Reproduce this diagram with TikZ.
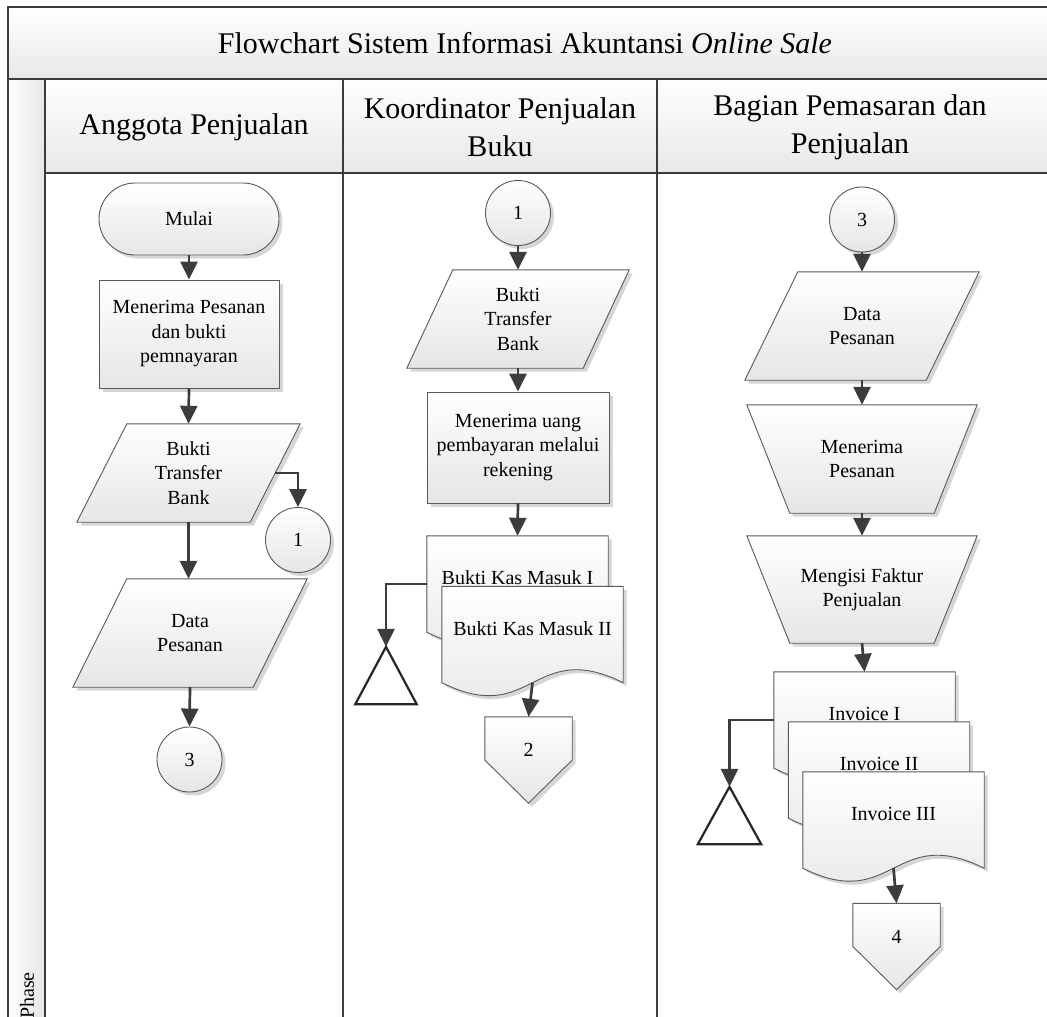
\documentclass[tikz,border=0pt]{standalone}
\usepackage{fontspec}
\setmainfont{Liberation Serif}
\usetikzlibrary{arrows.meta,calc,shadows}
\pgfdeclarelayer{bg}
\pgfdeclarelayer{mid}
\pgfsetlayers{bg,mid,main}
\definecolor{edge}{HTML}{5A5A5A}
\definecolor{wire}{HTML}{3C3C3C}
\definecolor{frame}{HTML}{3C3C3C}

\begin{document}
\begin{tikzpicture}[x=1pt,y=-1pt,
  txt/.style={font=\fontsize{20}{24.5}\selectfont, align=center, inner sep=0pt},
  head/.style={font=\fontsize{30}{38}\selectfont, align=center, inner sep=0pt},
  body/.style={draw=edge, line width=0.9pt, top color=white, bottom color=black!10,
    drop shadow={shadow xshift=3.5pt, shadow yshift=-3.5pt, opacity=0.16, fill=black}},
  term/.style={txt, body, rectangle, rounded corners=36pt, minimum width=180pt, minimum height=72pt},
  procbox/.style={txt, body, rectangle, minimum width=180pt, minimum height=108pt},
  conn/.style={txt, body, circle, minimum size=65pt},
  doc/.style={txt, minimum width=181pt, minimum height=96pt, text height=14pt, text depth=13pt},
  offp/.style={txt, minimum width=87pt, minimum height=86pt, text height=14pt, text depth=21pt},
  tri/.style={inner sep=0pt, minimum width=61pt, minimum height=57pt},
  archive/.style={draw=black!85, line width=2.2pt, fill=white, line join=miter},
  lane/.style={draw=frame, line width=1.8pt},
  flow/.style={draw=wire, line width=2.7pt, -{Triangle[length=18pt,width=17pt]}}
]
\useasboundingbox (0,0) rectangle (1047,1017);
\clip (0,0) rectangle (1047,1017);

% ---------- swimlane frame ----------
\begin{pgfonlayer}{bg}
  \fill[white] (0,0) rectangle (1047,1017);
  \path[top color=white, bottom color=black!9] (8,7) rectangle (1060,79);
  \path[left color=white, right color=black!10] (8,79) rectangle (45,1040);
  \path[top color=white, bottom color=black!9] (45,79) rectangle (1060,173);
  \draw[lane] (8,1040) -- (8,7) -- (1060,7);
  \draw[lane] (8,79) -- (1060,79);
  \draw[lane] (45,173) -- (1060,173);
  \draw[lane] (45,79) -- (45,1040);
  \draw[lane] (343,79) -- (343,1040);
  \draw[lane] (657,79) -- (657,1040);
\end{pgfonlayer}

\node[head] (title) at (525,43) {Flowchart Sistem Informasi Akuntansi \textit{Online Sale}};
\node[head] (h1) at (194,127) {Anggota Penjualan};
\node[head] (h2) at (500,127) {Koordinator Penjualan\\Buku};
\node[head] (h3) at (850,127) {Bagian Pemasaran dan\\Penjualan};
\node[txt, rotate=90, anchor=west] (phase) at (27,1019) {Phase};

% ---------- Anggota Penjualan ----------
\node[term] (mulai) at (189,219) {Mulai};
\node[procbox] (terima) at (189,334) {Menerima Pesanan\\dan bukti\\pemnayaran};
\node[txt, minimum width=223pt, minimum height=98pt] (bukti1) at (188.5,473) {Bukti\\Transfer\\Bank};
\node[conn] (out1) at (298,540) {1};
\node[txt, minimum width=234pt, minimum height=108pt] (data1) at (190,633) {Data\\Pesanan};
\node[conn] (out3) at (189.5,759.5) {3};

% ---------- Koordinator Penjualan Buku ----------
\node[conn] (in1) at (518,213) {1};
\node[txt, minimum width=222pt, minimum height=98pt] (bukti2) at (518,319) {Bukti\\Transfer\\Bank};
\node[procbox, minimum width=182pt, minimum height=111pt] (uang) at (518,447.5) {Menerima uang\\pembayaran melalui\\rekening};
\node[doc] (kas1) at (517.5,584) {Bukti Kas Masuk I};
\node[doc] (kas2) at (532.5,634.5) {Bukti Kas Masuk II};
\node[tri] (arsip1) at (386,675.5) {};
\node[offp] (out2) at (528.5,760) {2};

% ---------- Bagian Pemasaran dan Penjualan ----------
\node[conn] (in3) at (862,219.5) {3};
\node[txt, minimum width=234pt, minimum height=108pt] (data2) at (862,326) {Data\\Pesanan};
\node[txt, minimum width=230pt, minimum height=108pt] (man1) at (862,459) {Menerima\\Pesanan};
\node[txt, minimum width=230pt, minimum height=107pt] (man2) at (862,589.5) {Mengisi Faktur\\Penjualan};
\node[doc] (inv1) at (864.5,720) {Invoice I};
\node[doc] (inv2) at (879,770) {Invoice II};
\node[doc] (inv3) at (893.5,820) {Invoice III};
\node[tri, minimum width=63pt] (arsip2) at (729.5,815.5) {};
\node[offp] (out4) at (896.5,946.5) {4};

% ---------- shape outlines behind the labels ----------
\begin{pgfonlayer}{mid}
  % input/output parallelograms
  \path[body] ([xshift=50pt]bukti1.north west) -- (bukti1.north east)
    -- ([xshift=-50pt]bukti1.south east) -- (bukti1.south west) -- cycle;
  \path[body] ([xshift=54pt]data1.north west) -- (data1.north east)
    -- ([xshift=-54pt]data1.south east) -- (data1.south west) -- cycle;
  \path[body] ([xshift=46pt]bukti2.north west) -- (bukti2.north east)
    -- ([xshift=-46pt]bukti2.south east) -- (bukti2.south west) -- cycle;
  \path[body] ([xshift=53pt]data2.north west) -- (data2.north east)
    -- ([xshift=-53pt]data2.south east) -- (data2.south west) -- cycle;
  % manual operations
  \foreach \m in {man1,man2}
    \path[body] (\m.north west) -- (\m.north east)
      -- ([xshift=-43pt]\m.south east) -- ([xshift=43pt]\m.south west) -- cycle;
  % documents
  \foreach \d in {kas1,kas2,inv1,inv2,inv3}
    \path[body] (\d.north west) -- (\d.north east) -- (\d.south east)
      .. controls ([yshift=45pt]\d.south) and ([yshift=-45pt]\d.south) .. (\d.south west) -- cycle;
  % off-page connectors
  \foreach \o in {out2,out4}
    \path[body] (\o.north west) -- (\o.north east) -- (\o.east) -- (\o.south) -- (\o.west) -- cycle;
  % archive triangles
  \foreach \t in {arsip1,arsip2}
    \path[archive] (\t.north) -- (\t.south east) -- (\t.south west) -- cycle;
\end{pgfonlayer}

% ---------- flow ----------
\coordinate (b1side) at ([xshift=-25pt]bukti1.east);
\draw[flow] (mulai.south) -- (terima.north);
\draw[flow] (terima.south) -- (bukti1.north);
\draw[flow] (b1side) -| (out1.north);
\draw[flow] (bukti1.south) -- (bukti1.south |- data1.north);
\draw[flow] (data1.south) -- (out3.north);

\draw[flow] (in1.south) -- (bukti2.north);
\draw[flow] (bukti2.south) -- (uang.north);
\draw[flow] (uang.south) -- (kas1.north);
\draw[flow] (kas1.west) -| (arsip1.north);
\draw[flow] (kas2.south) -- (out2.north);

\draw[flow] (in3.south) -- (data2.north);
\draw[flow] (data2.south) -- (man1.north);
\draw[flow] (man1.south) -- (man2.north);
\draw[flow] (man2.south) -- (inv1.north);
\draw[flow] (inv1.west) -| (arsip2.north);
\draw[flow] (inv3.south) -- (out4.north);
\end{tikzpicture}
\end{document}
